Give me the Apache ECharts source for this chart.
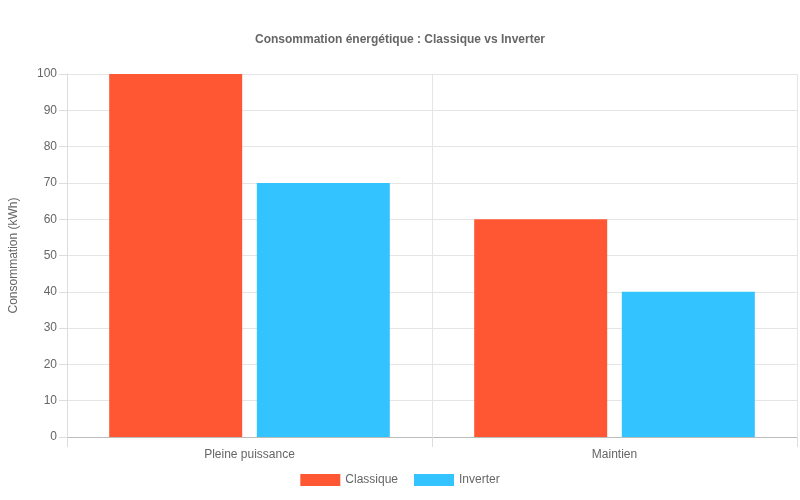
<!DOCTYPE html>
<html><head><meta charset="utf-8">
<script src="https://cdn.jsdelivr.net/npm/echarts@6/dist/echarts.min.js"></script>
<style>html,body{margin:0;padding:0;background:#fff}#c{width:800px;height:500px}</style>
</head><body><div id="c"></div>
<script>
const categories = ["Pleine puissance", "Maintien"];
const classique = [100, 60];
const inverter = [70, 40];
const yTicks = [0, 10, 20, 30, 40, 50, 60, 70, 80, 90, 100];

const chart = echarts.init(document.getElementById('c'));
const font = 'Liberation Sans, Arial, sans-serif';
chart.setOption({
  animation: false,
  textStyle: { fontFamily: font },
  title: { text: 'Consommation énergétique : Classique vs Inverter', left: 'center', top: 29,
    textStyle: { fontSize: 12, fontWeight: 'bold', color: '#666', fontFamily: font } },
  legend: { bottom: 9, itemWidth: 40, itemHeight: 12, itemGap: 16, icon: 'rect',
    textStyle: { fontSize: 12, color: '#666', fontFamily: font } },
  grid: { left: 59, right: 3, top: 74, bottom: 63 },
  xAxis: { type: 'category', data: categories,
    axisLine: { lineStyle: { color: '#bbb' } },
    axisTick: { show: true, length: 10, lineStyle: { color: '#ddd' } },
    splitLine: { show: true, lineStyle: { color: '#e5e5e5' } },
    axisLabel: { color: '#666', fontSize: 12, margin: 12 } },
  yAxis: { type: 'value', min: yTicks[0], max: yTicks[yTicks.length - 1], interval: 10,
    name: 'Consommation (kWh)', nameLocation: 'middle', nameGap: 47,
    nameTextStyle: { color: '#666', fontSize: 12 },
    axisLine: { show: true, lineStyle: { color: '#ddd' } },
    axisTick: { show: true, length: 8, lineStyle: { color: '#ddd' } },
    splitLine: { lineStyle: { color: '#e5e5e5' } },
    axisLabel: { color: '#666', fontSize: 12, margin: 10 } },
  series: [
    { name: 'Classique', type: 'bar', data: classique, barWidth: 133, barGap: '11%',
      itemStyle: { color: '#FF5733' } },
    { name: 'Inverter', type: 'bar', data: inverter, barWidth: 133,
      itemStyle: { color: '#33C3FF' } }
  ]
});
</script></body></html>
